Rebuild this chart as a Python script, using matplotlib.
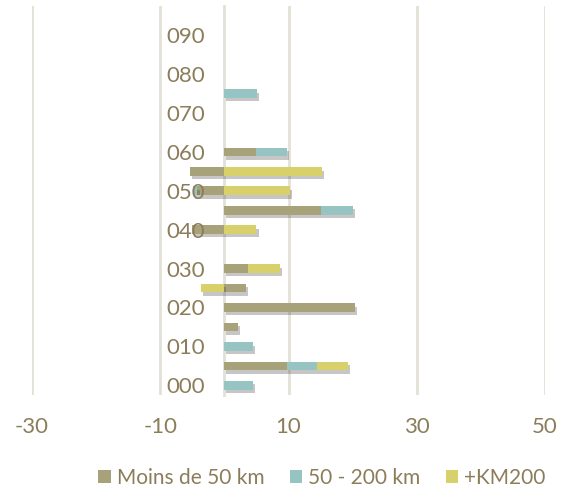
import matplotlib.pyplot as plt
import matplotlib.patheffects as pe
import numpy as np

categories = ['000', '005', '010', '015', '020', '025', '030', '035', '040', '045',
              '050', '055', '060', '065', '070', '075', '080', '085', '090', '095']
moins_50 = [0, 9.7, 0, 2.1, 20.3, 3.4, 3.7, 0, -5.0, 15.0,
            -4.2, -5.3, 5.0, 0, 0, 0, 0, 0, 0, 0]
km_50_200 = [4.5, 4.7, 4.5, 0, 0, 0, 0, 0, 0, 5.1,
             -0.7, 0, 4.8, 0, 0, 5.1, 0, 0, 0, 0]
km_200 = [0, 4.9, 0, 0, 0, -3.6, 4.9, 0, 5.0, 0,
          10.2, 15.2, 0, 0, 0, 0, 0, 0, 0, 0]
series = [('Moins de 50 km', moins_50, '#A7A27A'),
          ('50 - 200 km', km_50_200, '#95C4C3'),
          ('+KM200', km_200, '#D8D06A')]

text_col = '#8C7D5A'
grid_col = '#E3E0D6'
plt.rcParams['font.family'] = ['Lato', 'DejaVu Sans']
plt.rcParams['axes.unicode_minus'] = False

fig = plt.figure(figsize=(5.65, 4.93), dpi=100)
ax = fig.add_axes([32 / 565, 1 - 395 / 493, 513 / 565, 389 / 493])

y = np.arange(len(categories))
pos_base = np.zeros(len(categories))
neg_base = np.zeros(len(categories))
shadow = [pe.SimplePatchShadow(offset=(1.5, -2.5), alpha=0.3, shadow_rgbFace='#444444'), pe.Normal()]
for name, vals, col in series:
    vals = np.array(vals, dtype=float)
    base = np.where(vals >= 0, pos_base, neg_base)
    bars = ax.barh(y, vals, left=base, height=0.44, color=col, label=name, zorder=2)
    for b, v in zip(bars, vals):
        if v != 0:
            b.set_path_effects(shadow)
    pos_base += np.where(vals > 0, vals, 0)
    neg_base += np.where(vals < 0, vals, 0)

for xv in [-30, -10, 10, 30, 50]:
    ax.axvline(xv, color=grid_col, lw=2, zorder=0)

ax.set_xlim(-30, 50)
ax.set_ylim(-0.5, len(categories) - 0.5)
ax.set_xticks([-30, -10, 10, 30, 50])
ax.set_yticks(y[::2])
ax.set_yticklabels(categories[::2])

for s in ['top', 'right', 'bottom']:
    ax.spines[s].set_visible(False)
ax.spines['left'].set_position(('data', 0))
ax.spines['left'].set_color(grid_col)
ax.spines['left'].set_linewidth(2)
ax.spines['left'].set_zorder(1)

ax.tick_params(axis='x', length=0, pad=16, labelsize=16, labelcolor=text_col)
ax.tick_params(axis='y', length=0, pad=14, labelsize=16, labelcolor=text_col)
for lab in ax.get_yticklabels():
    lab.set_zorder(5)
ax.set_axisbelow(False)

leg = fig.legend(loc='center', bbox_to_anchor=(0.57, 1 - 478 / 493), ncol=3, frameon=False,
                 fontsize=15, labelcolor=text_col, handlelength=0.6, handleheight=0.6,
                 handletextpad=0.3, columnspacing=1.2)
for h in leg.legend_handles:
    h.set_path_effects([])

fig.savefig('out.png', dpi=100)
